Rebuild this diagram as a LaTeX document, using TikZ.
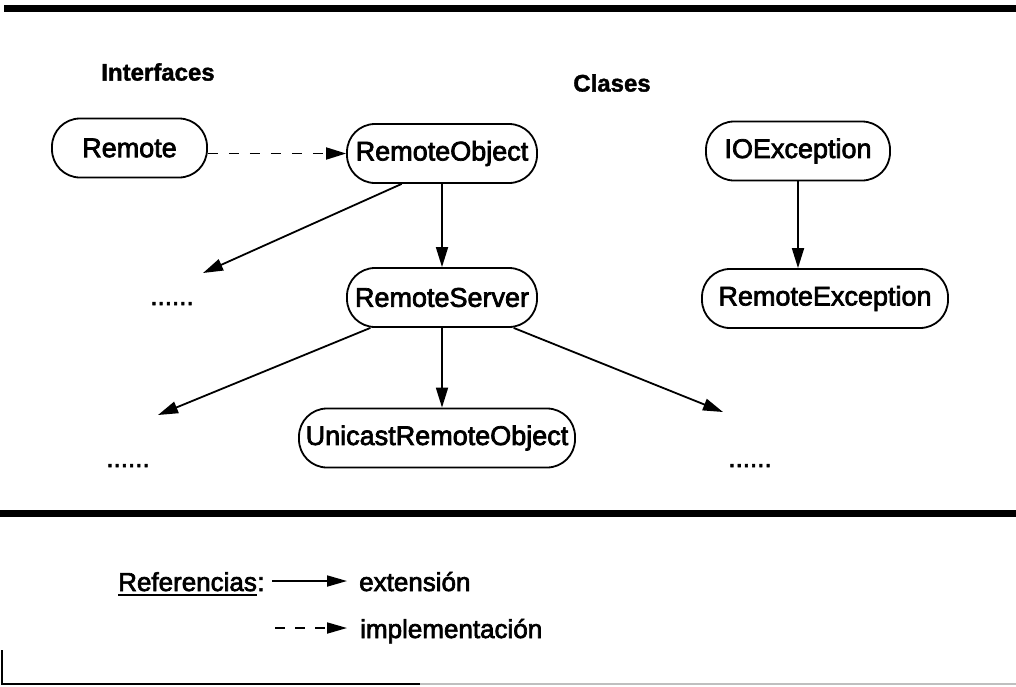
\documentclass[tikz,border=0pt]{standalone}
\usepackage{fontspec}
\setmainfont{Liberation Sans}
\newfontfamily\boxfont{Liberation Sans}[FakeBold=2.6]
\newfontfamily\headfont{Liberation Sans Bold}[FakeBold=1.5]
\usetikzlibrary{arrows.meta}

\begin{document}
\begin{tikzpicture}[x=1pt,y=-1pt,
  cls/.style={draw, line width=1.8pt, rounded corners=28pt,
    inner xsep=0pt, minimum height=59pt,
    font=\boxfont\fontsize{27}{32}\selectfont},
  heading/.style={font=\headfont\fontsize{24}{28}\selectfont},
  plain/.style={font=\boxfont\fontsize{26}{30}\selectfont, inner sep=0pt},
  ext/.style={line width=1.8pt, -{Triangle[length=20pt,width=12pt]}},
  impl/.style={ext, dash pattern=on 10pt off 11pt},
  rule/.style={line width=7pt},
]
\useasboundingbox (0,0) rectangle (1016,686);

% frame rules
\draw[rule] (4,8.5) -- (1016,8.5);
\draw[rule] (0,513.5) -- (1016,513.5);
\draw[line width=1.5pt] (2,650) -- (2,684) -- (420,684);
\draw[line width=1.5pt, black!25] (420,684) -- (1016,684);

% headings
\node[heading] (hint) at (158,72) {Interfaces};
\node[heading] (hcls) at (612,83) {Clases};

% classes and interfaces
\node[cls, minimum width=155pt] (remote) at (129.5,148) {Remote};
\node[cls, minimum width=190pt] (robj) at (442,153.5) {RemoteObject};
\node[cls, minimum width=184pt] (ioex) at (798,151) {IOException};
\node[cls, minimum width=190pt] (rserv) at (442,297.5) {RemoteServer};
\node[cls, minimum width=246pt] (rex) at (825,298.5) {RemoteException};
\node[cls, minimum width=276pt] (uro) at (437,438) {UnicastRemoteObject};

% further subclasses
\node[plain, anchor=base] (d1) at (172,305) {......};
\node[plain, anchor=base] (d2) at (128,467) {......};
\node[plain, anchor=base] (d3) at (750,467) {......};
\coordinate (t1) at (203,273);
\coordinate (t2) at (158,415);
\coordinate (t3) at (723,412);

% relations
\draw[impl] (remote.east |- robj.west) -- (robj.west);
\draw[ext] (robj.south) -- (rserv.north);
\draw[ext] (robj.217) -- (t1);
\draw[ext] (rserv.203) -- (t2);
\draw[ext] (rserv.south) -- (rserv.south |- uro.north);
\draw[ext] (rserv.337) -- (t3);
\draw[ext] (ioex.south) -- (ioex.south |- rex.north);

% legend
\node[plain, anchor=base west] (refw) at (118,591) {Referencias};
\node[plain, anchor=base west] (refc) at (refw.base east) {:};
\draw[line width=1.8pt] ([yshift=-4pt]refw.base west) -- ([yshift=-4pt]refw.base east);
\coordinate (la1) at (272,581);
\coordinate (la2) at (347,581);
\coordinate (lb1) at (275,628);
\coordinate (lb2) at (347,628);
\draw[line width=1.8pt, -{Triangle[length=20pt,width=11pt]}] (la1) -- (la2);
\draw[line width=1.8pt, dash pattern=on 10pt off 10pt, -{Triangle[length=20pt,width=11pt]}] (lb1) -- (lb2);
\node[plain, anchor=base west] (lext) at (359,591) {extensión};
\node[plain, anchor=base west] (limp) at (360,638) {implementación};
\end{tikzpicture}
\end{document}
